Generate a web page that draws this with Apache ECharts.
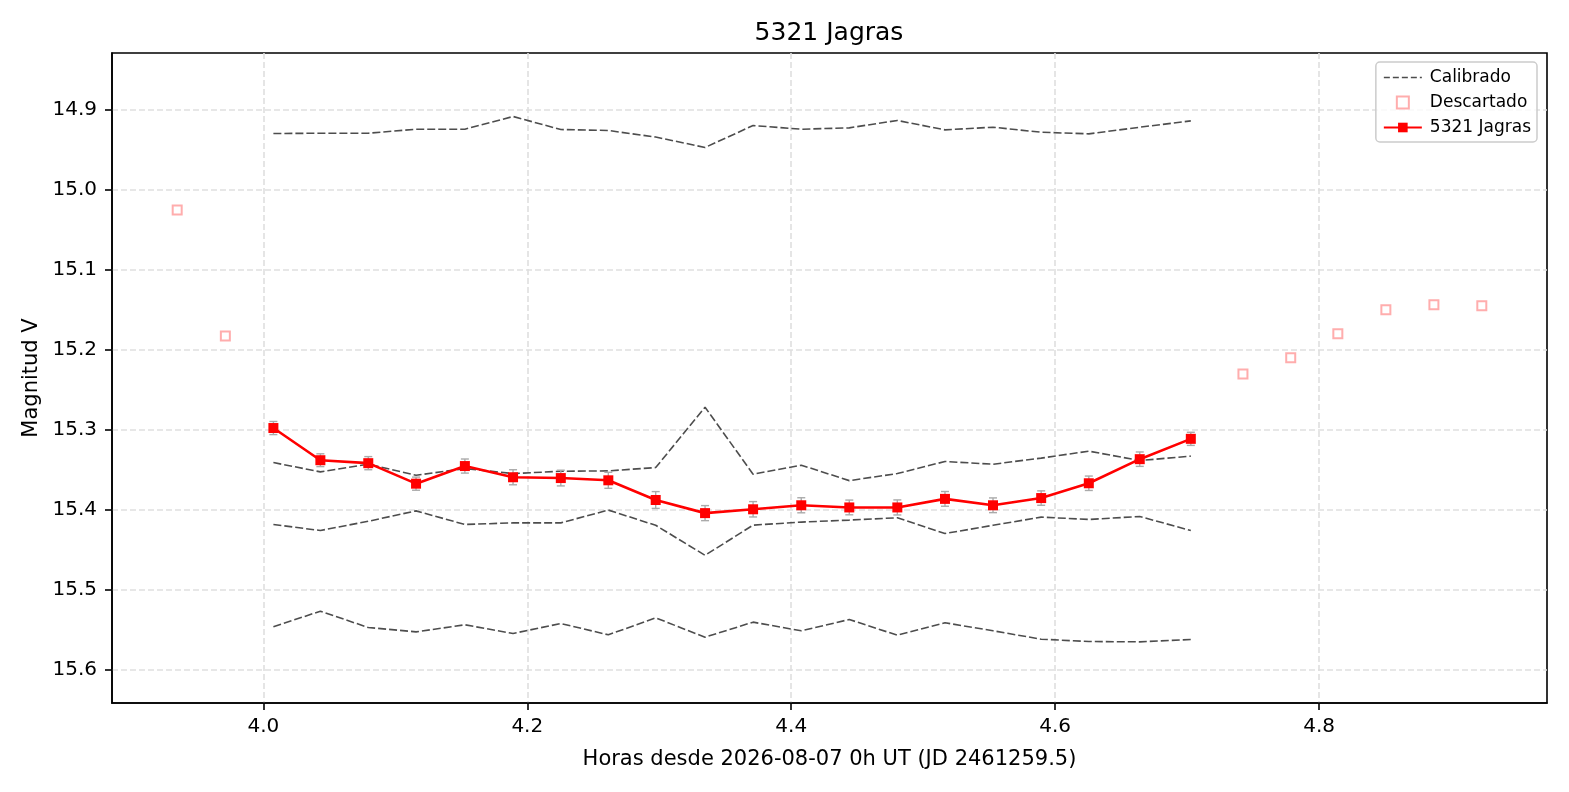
<!DOCTYPE html>
<html lang="es">
<head>
	<meta charset="utf-8">
	<title>5321 Jagras</title>
	<style>
		body { margin: 0; background: #fff; }
		#main { width: 1569px; height: 792px; }
	</style>
</head>
<body>
	<div id="main"></div>
	<script type="text/javascript" src="https://cdn.jsdelivr.net/npm/echarts@6/dist/echarts.min.js"></script>
	<script type="text/javascript">
		// horas desde 2026-08-07 0h UT
		var hours = [4.0076, 4.0432, 4.0795, 4.1157, 4.1527, 4.1892, 4.2254, 4.2614, 4.2973, 4.3347,
			4.3711, 4.4076, 4.4440, 4.4804, 4.5165, 4.5529, 4.5894, 4.6255, 4.6641, 4.7028];
		var jagras = [15.2975, 15.3377, 15.3414, 15.3670, 15.3450, 15.3590, 15.3600, 15.3628, 15.3874, 15.4038,
			15.3990, 15.3940, 15.3967, 15.3967, 15.3860, 15.3940, 15.3850, 15.3665, 15.3364, 15.3110];
		var jagrasErr = [0.0082, 0.0080, 0.0082, 0.0082, 0.0088, 0.0094, 0.0098, 0.0100, 0.0105, 0.0094,
			0.0096, 0.0094, 0.0092, 0.0094, 0.0092, 0.0092, 0.0090, 0.0090, 0.0090, 0.0082];
		// estrellas de calibracion
		var calib1 = [14.9296, 14.9292, 14.9292, 14.9242, 14.9242, 14.9083, 14.9246, 14.9258, 14.9340, 14.9470,
			14.9196, 14.9242, 14.9225, 14.9133, 14.9250, 14.9217, 14.9280, 14.9300, 14.9217, 14.9138];
		var calib2 = [15.3406, 15.3523, 15.3427, 15.3565, 15.3481, 15.3544, 15.3515, 15.3510, 15.3469, 15.2715,
			15.3552, 15.3439, 15.3632, 15.3544, 15.3393, 15.3427, 15.3351, 15.3264, 15.3381, 15.3326];
		var calib3 = [15.4180, 15.4255, 15.4140, 15.4010, 15.4180, 15.4160, 15.4160, 15.4000, 15.4190, 15.4565,
			15.4188, 15.4150, 15.4125, 15.4096, 15.4293, 15.4190, 15.4088, 15.4117, 15.4080, 15.4255];
		var calib4 = [15.5458, 15.5263, 15.5467, 15.5521, 15.5433, 15.5542, 15.5417, 15.5558, 15.5346, 15.5588,
			15.5400, 15.5508, 15.5367, 15.5563, 15.5408, 15.5508, 15.5613, 15.5642, 15.5646, 15.5617];
		// puntos descartados
		var discHours = [3.9347, 3.9712, 4.7423, 4.7785, 4.8142, 4.8506, 4.8870, 4.9233];
		var discMags = [15.025, 15.1825, 15.230, 15.2096, 15.1796, 15.1496, 15.1434, 15.1446];
		var xTicks = [4.0, 4.2, 4.4, 4.6, 4.8];
		var yTicks = [14.9, 15.0, 15.1, 15.2, 15.3, 15.4, 15.5, 15.6];

		var font = 'DejaVu Sans';
		var myChart;

		function pairs(xs, ys) {
			var out = [];
			for (var i = 0; i < xs.length; i++) out.push([xs[i], ys[i]]);
			return out;
		}

		function calibSeries(vals) {
			return {
				name: 'Calibrado',
				type: 'line',
				data: pairs(hours, vals),
				symbol: 'none',
				silent: true,
				z: 2,
				lineStyle: { color: '#4d4d4d', width: 1.6, type: [8, 3] },
				itemStyle: { color: '#4d4d4d' }
			};
		}

		function setEcharts() {
			myChart = echarts.init(document.getElementById('main'));

			var errData = [];
			for (var i = 0; i < hours.length; i++) errData.push([hours[i], jagras[i], jagrasErr[i]]);

			myChart.setOption({
				animation: false,
				textStyle: { fontFamily: font },
				title: {
					text: '5321 Jagras',
					left: 829, textAlign: 'center',
					top: 21, padding: 0,
					textStyle: { fontFamily: font, fontSize: 25, fontWeight: 'normal', color: '#000' }
				},
				legend: {
					orient: 'vertical',
					right: 32, top: 62,
					padding: [7, 6, 6, 7],
					itemWidth: 38, itemHeight: 12, itemGap: 8,
					symbolKeepAspect: true,
					backgroundColor: 'rgba(255,255,255,0.8)',
					borderColor: '#cccccc', borderWidth: 1.5, borderRadius: 4,
					textStyle: { fontFamily: font, fontSize: 17, color: '#000', lineHeight: 17, padding: [0, 0, 0, 3] },
					data: [
						{ name: 'Calibrado', itemStyle: { opacity: 0 }, lineStyle: { type: [6, 3], width: 1.6, color: '#4d4d4d' } },
						{ name: 'Descartado', icon: 'path://M0,0h10v10h-10z' },
						{ name: '5321 Jagras' }
					]
				},
				grid: {
					left: 112, right: 22, top: 53, bottom: 89,
					show: true, borderColor: '#000', borderWidth: 1.6, backgroundColor: 'transparent'
				},
				xAxis: {
					type: 'value',
					min: 3.8853, max: 4.9727,
					splitNumber: 5,
					name: 'Horas desde 2026-08-07 0h UT (JD 2461259.5)',
					nameLocation: 'middle', nameGap: 46,
					nameTextStyle: { fontFamily: font, fontSize: 21, color: '#000' },
					axisLine: { lineStyle: { color: '#000', width: 1.6 } },
					axisTick: { customValues: xTicks, length: 7, lineStyle: { color: '#000', width: 1.6 } },
					axisLabel: {
						customValues: xTicks, margin: 14,
						fontFamily: font, fontSize: 20, color: '#000',
						formatter: function (v) { return Number(v).toFixed(1); }
					},
					splitLine: { show: true, lineStyle: { color: '#dfdfdf', width: 1.6, type: [6, 3] } }
				},
				yAxis: {
					type: 'value',
					inverse: true,
					min: 14.829, max: 15.641,
					splitNumber: 8,
					name: 'Magnitud V',
					nameLocation: 'middle', nameGap: 65,
					nameTextStyle: { fontFamily: font, fontSize: 21, color: '#000' },
					axisLine: { show: true, lineStyle: { color: '#000', width: 1.6 } },
					axisTick: { show: true, customValues: yTicks, length: 7, lineStyle: { color: '#000', width: 1.6 } },
					axisLabel: {
						customValues: yTicks, margin: 15,
						fontFamily: font, fontSize: 20, color: '#000',
						formatter: function (v) { return Number(v).toFixed(1); }
					},
					splitLine: { show: true, lineStyle: { color: '#dfdfdf', width: 1.6, type: [6, 3] } }
				},
				series: [
					calibSeries(calib1),
					calibSeries(calib2),
					calibSeries(calib3),
					calibSeries(calib4),
					{
						name: 'Descartado',
						type: 'scatter',
						data: pairs(discHours, discMags),
						symbol: 'rect',
						symbolSize: 9,
						z: 3,
						itemStyle: { color: '#ffffff', borderColor: '#ff9999', borderWidth: 2 }
					},
					{
						name: 'errores',
						type: 'custom',
						data: errData,
						z: 4,
						silent: true,
						renderItem: function (params, api) {
							var x = api.value(0), y = api.value(1), e = api.value(2);
							var top = api.coord([x, y - e]);
							var bot = api.coord([x, y + e]);
							var cap = 4;
							var st = { stroke: '#aaaaaa', lineWidth: 1.4 };
							return {
								type: 'group',
								children: [
									{ type: 'line', shape: { x1: top[0], y1: top[1], x2: bot[0], y2: bot[1] }, style: st },
									{ type: 'line', shape: { x1: top[0] - cap, y1: top[1], x2: top[0] + cap, y2: top[1] }, style: st },
									{ type: 'line', shape: { x1: bot[0] - cap, y1: bot[1], x2: bot[0] + cap, y2: bot[1] }, style: st }
								]
							};
						}
					},
					{
						name: '5321 Jagras',
						type: 'line',
						data: pairs(hours, jagras),
						symbol: 'rect',
						symbolSize: 10,
						showAllSymbol: true,
						z: 5,
						lineStyle: { color: '#ff0000', width: 2.6 },
						itemStyle: { color: '#ff0000' }
					}
				]
			});
		}

		setEcharts();
	</script>
</body>
</html>
